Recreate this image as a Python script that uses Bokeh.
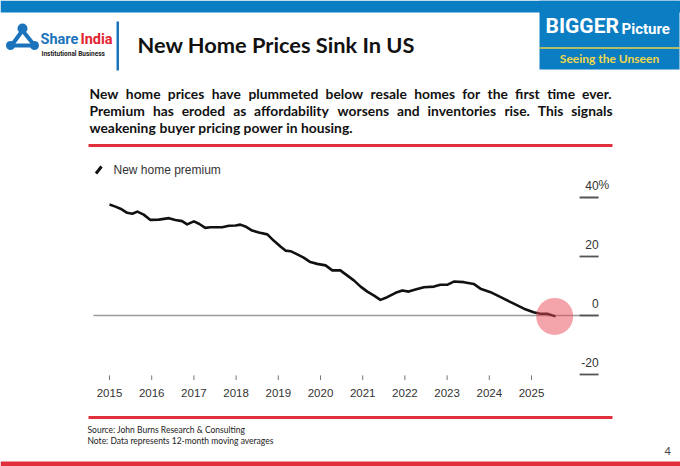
import glob
import os
import struct

from bokeh.plotting import figure
from bokeh.models import Range1d
from bokeh.embed import file_html
from bokeh.resources import INLINE
from bokeh.core.properties import value

# ---------------- data ----------------
years = [2015.00, 2015.14, 2015.26, 2015.42, 2015.54, 2015.66, 2015.81, 2015.97,
         2016.17, 2016.41, 2016.56, 2016.72, 2016.84, 2017.00, 2017.12, 2017.27,
         2017.39, 2017.67, 2017.83, 2017.99, 2018.10, 2018.22, 2018.38, 2018.54,
         2018.74, 2018.89, 2019.05, 2019.17, 2019.29, 2019.45, 2019.60, 2019.76,
         2019.92, 2020.12, 2020.28, 2020.47, 2020.63, 2020.79, 2020.95, 2021.11,
         2021.26, 2021.42, 2021.58, 2021.78, 2021.94, 2022.09, 2022.25, 2022.45,
         2022.69, 2022.84, 2023.00, 2023.16, 2023.40, 2023.63, 2023.79, 2024.03,
         2024.27, 2024.58, 2024.82, 2025.05, 2025.21, 2025.37, 2025.57]
premium = [37.6, 36.9, 36.2, 34.8, 34.5, 35.2, 34.2, 32.4,
           32.5, 33.0, 32.4, 32.0, 30.9, 31.9, 31.1, 29.7,
           29.9, 29.9, 30.4, 30.5, 30.8, 30.2, 28.8, 28.1,
           27.5, 25.4, 23.4, 22.0, 21.8, 20.7, 19.6, 18.1,
           17.5, 17.0, 15.3, 15.3, 13.6, 11.9, 9.8, 8.1,
           6.8, 5.3, 6.2, 7.7, 8.5, 8.1, 8.8, 9.6,
           9.8, 10.4, 10.4, 11.5, 11.3, 10.7, 9.1, 7.9,
           6.2, 4.0, 2.3, 1.1, 0.6, 0.6, -0.3]
x_ticks = [2015, 2016, 2017, 2018, 2019, 2020, 2021, 2022, 2023, 2024, 2025]
x_labels = ["2015", "2016", "2017", "2018", "2019", "2020", "2021", "2022", "2023", "2024", "2025"]
y_ticks = [40, 20, 0, -20]
y_labels = ["40", "20", "0", "-20"]
highlight_year = [2025.55]
highlight_value = [-0.3]

para_lines = [
    "New home prices have plummeted below resale homes for the first time ever.",
    "Premium has eroded as affordability worsens and inventories rise. This signals",
    "weakening buyer pricing power in housing.",
]


# ---------------- text measuring (for justified paragraph) ----------------
def load_width_fn(patterns):
    path = None
    for pat in patterns:
        hits = glob.glob(pat, recursive=True)
        if hits:
            path = hits[0]
            break
    if path is None:
        return None
    data = open(path, "rb").read()
    ntab = struct.unpack(">H", data[4:6])[0]
    tabs = {}
    for i in range(ntab):
        o = 12 + 16 * i
        tag = data[o:o + 4].decode("latin1")
        toff = struct.unpack(">I", data[o + 8:o + 12])[0]
        tabs[tag] = toff
    upem = struct.unpack(">H", data[tabs["head"] + 18:tabs["head"] + 20])[0]
    nhm = struct.unpack(">H", data[tabs["hhea"] + 34:tabs["hhea"] + 36])[0]
    hm = tabs["hmtx"]
    adv = [struct.unpack(">H", data[hm + 4 * i:hm + 4 * i + 2])[0] for i in range(nhm)]
    cm = tabs["cmap"]
    nsub = struct.unpack(">H", data[cm + 2:cm + 4])[0]
    sub = None
    for i in range(nsub):
        pid, eid, soff = struct.unpack(">HHI", data[cm + 4 + 8 * i:cm + 12 + 8 * i])
        fmt = struct.unpack(">H", data[cm + soff:cm + soff + 2])[0]
        if fmt == 4 and pid in (0, 3):
            sub = cm + soff
            break
    if sub is None:
        return None
    segx2 = struct.unpack(">H", data[sub + 6:sub + 8])[0]
    seg = segx2 // 2
    ends = struct.unpack(">%dH" % seg, data[sub + 14:sub + 14 + segx2])
    so = sub + 16 + segx2
    starts = struct.unpack(">%dH" % seg, data[so:so + segx2])
    do = so + segx2
    deltas = struct.unpack(">%dh" % seg, data[do:do + segx2])
    ro = do + segx2
    ros = struct.unpack(">%dH" % seg, data[ro:ro + segx2])

    def gid(ch):
        c = ord(ch)
        for i in range(seg):
            if ends[i] >= c:
                if starts[i] > c:
                    return 0
                if ros[i] == 0:
                    return (c + deltas[i]) & 0xFFFF
                addr = ro + 2 * i + ros[i] + 2 * (c - starts[i])
                g = struct.unpack(">H", data[addr:addr + 2])[0]
                return (g + deltas[i]) & 0xFFFF if g else 0
        return 0

    def width(s):
        return sum(adv[min(gid(ch), nhm - 1)] for ch in s) / upem

    return width


try:
    em_width = load_width_fn(["/usr/share/fonts/**/Lato-Bold.ttf", "/usr/share/fonts/**/Lato-Bold.otf",
                              "/usr/local/share/fonts/**/Lato-Bold.*",
                              os.path.expanduser("~/.fonts/**/Lato-Bold.*"),
                              os.path.expanduser("~/.local/share/fonts/**/Lato-Bold.*")])
except Exception:
    em_width = None
if em_width is None:
    em_width = lambda s: 0.53 * len(s)

PX0, PX1 = 89.0, 612.0
para_size = max(12.0, min(15.0, 263.0 / em_width(para_lines[2])))
title_size = max(17.0, min(22.0, 279.0 / em_width("New Home Prices Sink In US")))

word_x, word_y, word_t = [], [], []
for i, line in enumerate(para_lines):
    words = line.split(" ")
    ws = [em_width(w) * para_size for w in words]
    if i < 2:
        gap = (PX1 - PX0 - sum(ws)) / (len(words) - 1)
    else:
        gap = em_width(" ") * para_size
    x = PX0
    for w, wpx in zip(words, ws):
        word_x.append(x)
        word_y.append(93 + 17 * i)
        word_t.append(w)
        x += wpx + gap

# ---------------- figure ----------------
W, H = 680, 466
p = figure(width=W, height=H, x_range=Range1d(0, W), y_range=Range1d(H, 0),
           output_backend="svg", toolbar_location=None, min_border=0,
           x_axis_type=None, y_axis_type=None)
p.outline_line_color = None
p.background_fill_color = "white"
p.border_fill_color = "white"
p.extra_x_ranges = {"yr": Range1d(2012.417, 2028.531)}
p.extra_y_ranges = {"pct": Range1d(-51.19, 106.78)}

BLUE = "#0b7dc3"
RED = "#e0303c"
BODY = value("Lato")
AX = value("Liberation Sans")
COND = value("Roboto")

# header bars
p.quad(left=[0], right=[W], top=[0], bottom=[12], fill_color=BLUE, line_color=None)
p.quad(left=[539], right=[679], top=[0], bottom=[69], fill_color=BLUE, line_color=None)
p.segment(x0=[539], y0=[47.5], x1=[679], y1=[47.5], line_color="#e8d44a", line_width=1.5)
p.text(x=[545], y=[25], text=["BIGGER"], text_font=COND, text_font_style="bold",
       text_font_size="21px", text_color="white", text_baseline="middle")
p.text(x=[621], y=[28], text=["Picture"], text_font=COND, text_font_style="bold",
       text_font_size="15px", text_color="white", text_baseline="middle")
p.text(x=[609], y=[57.5], text=["Seeing the Unseen"], text_font=BODY, text_font_style="bold",
       text_font_size="12px", text_color="#f0d84a", text_baseline="middle", text_align="center")

# logo
p.segment(x0=[22, 22, 11], y0=[30, 30, 45], x1=[11, 34, 34], y1=[45, 45, 45],
          line_color="#1b74bb", line_width=4)
p.scatter(x=[22, 10, 34], y=[28, 45, 45], size=[10, 9, 9], fill_color="#1b74bb", line_color=None)
p.scatter(x=[22], y=[40], size=[5], marker="triangle", fill_color="white", line_color=None)
p.text(x=[40], y=[39], text=["Share"], text_font=COND, text_font_style="bold",
       text_font_size="14.5px", text_color="#1b74bb", text_baseline="middle")
p.text(x=[80], y=[39], text=["India"], text_font=COND, text_font_style="bold",
       text_font_size="14.5px", text_color="#e2242f", text_baseline="middle")
p.text(x=[41], y=[53.5], text=["Institutional Business"], text_font=COND, text_font_style="bold",
       text_font_size="6.5px", text_color="#222222", text_baseline="middle")
p.quad(left=[116], right=[118.5], top=[21], bottom=[70], fill_color="#1b74bb", line_color=None)

# title
p.text(x=[137], y=[44], text=["New Home Prices Sink In US"], text_font=BODY, text_font_style="bold",
       text_font_size="%.2fpx" % title_size, text_color="#111111", text_baseline="middle")

# paragraph (justified)
p.text(x=word_x, y=word_y, text=word_t, text_font=BODY, text_font_style="bold",
       text_font_size="%.2fpx" % para_size, text_color="#111111", text_baseline="middle")

# separators
p.segment(x0=[88, 88], y0=[145, 417], x1=[612, 612], y1=[145, 417], line_color=RED, line_width=3)
p.quad(left=[0], right=[W], top=[461], bottom=[466], fill_color=RED, line_color=None)

# legend
p.segment(x0=[95.5], y0=[173], x1=[101], y1=[166], line_color="#111111", line_width=3)
p.text(x=[113], y=[169.5], text=["New home premium"], text_font=AX, text_font_size="12px",
       text_color="#333333", text_baseline="middle")

# chart (data ranges)
R = dict(x_range_name="yr", y_range_name="pct")
p.segment(x0=[2014.62], y0=[0], x1=[2026.59], y1=[0], line_color="#9a9a9a", line_width=1.5, **R)
p.segment(x0=[2026.14] * 4, y0=y_ticks, x1=[2026.59] * 4, y1=y_ticks, line_color="#555555",
          line_width=1.8, **R)
p.text(x=[2026.59] * 4, y=y_ticks, text=y_labels, y_offset=-12, text_font=AX, text_font_size="12px",
       text_color="#333333", text_baseline="middle", text_align="right", **R)
p.text(x=[2026.59], y=[y_ticks[0]], text=["%"], y_offset=-12, text_font=AX, text_font_size="12px",
       text_color="#333333", text_baseline="middle", text_align="left", **R)
p.segment(x0=x_ticks, y0=[-20.3] * len(x_ticks), x1=x_ticks, y1=[-21.9] * len(x_ticks),
          line_color="#777777", line_width=1, **R)
p.text(x=x_ticks, y=[-26.4] * len(x_ticks), text=x_labels, text_font=AX, text_font_size="11.5px",
       text_color="#333333", text_baseline="middle", text_align="center", **R)
p.line(years, premium, line_color="#111111", line_width=2.6, line_join="round", **R)
p.scatter(highlight_year, highlight_value, size=37, fill_color="#e94b5a", fill_alpha=0.5,
          line_color=None, **R)

# footer
p.text(x=[87, 87], y=[429, 440], text=["Source: John Burns Research & Consulting",
                                      "Note: Data represents 12-month moving averages"],
       text_font=BODY, text_font_size="8.5px", text_color="#222222", text_baseline="middle")
p.text(x=[664], y=[450], text=["4"], text_font=BODY, text_font_size="11px", text_color="#444444",
       text_baseline="middle")

open("out.html", "w").write(file_html(p, INLINE))
